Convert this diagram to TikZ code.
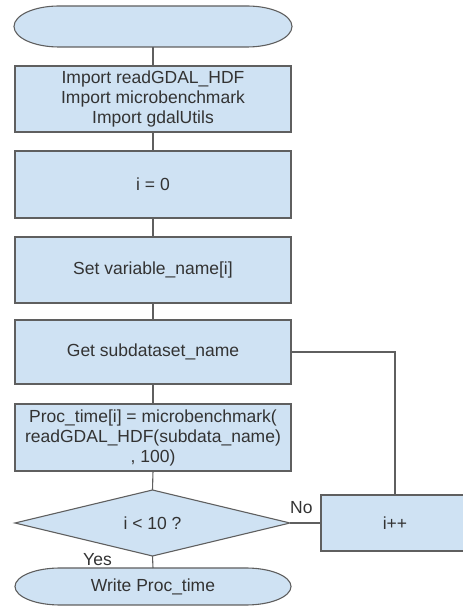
\documentclass[tikz,border=0pt]{standalone}
\usepackage{fontspec}
\setmainfont{Liberation Sans}
\usetikzlibrary{shapes.geometric,calc}
\definecolor{boxfill}{HTML}{CFE2F3}
\definecolor{boxline}{HTML}{5F5F5F}
\definecolor{txt}{HTML}{333333}
\tikzset{
  base/.style={inner sep=0pt, outer sep=0pt, text=txt, align=center,
    font=\fontsize{17.5}{20}\selectfont},
  proc/.style={base, rectangle, draw=boxline, fill=boxfill, line width=1.1pt},
  term/.style={base, rectangle, draw=none},
  decide/.style={base, diamond, draw=boxline, fill=boxfill, line width=1.1pt, aspect=4.17},
  link/.style={draw=boxline, line width=1.1pt},
  lbl/.style={text=txt, font=\fontsize{17.5}{20}\selectfont, inner sep=0pt}
}
\newcommand\termshape[2]{% node, end radius
  \filldraw[link, fill=boxfill]
    ($(#1.north west)+(#2,0)$) -- ($(#1.north east)+(-#2,0)$)
    arc[start angle=90, end angle=-90, x radius=#2 pt, y radius=0.5*\pgfkeysvalueof{/pgf/minimum height}]
    -- ($(#1.south west)+(#2,0)$)
    arc[start angle=270, end angle=90, x radius=#2 pt, y radius=0.5*\pgfkeysvalueof{/pgf/minimum height}]
    -- cycle;}
\begin{document}
\begin{tikzpicture}[x=1pt,y=1pt]
\useasboundingbox (0,0) rectangle (463,611);
\clip (0,0) rectangle (463,611);
% terminators (drawn as rounded shapes)
\node[term, minimum width=278pt, minimum height=41pt] (start) at (153,584.5) {};
\filldraw[link, fill=boxfill]
  ($(start.north west)+(45,0)$) -- ($(start.north east)+(-45,0)$)
  arc[start angle=90, end angle=-90, x radius=45pt, y radius=20.5pt]
  -- ($(start.south west)+(45,0)$)
  arc[start angle=270, end angle=90, x radius=45pt, y radius=20.5pt] -- cycle;
\node[proc, minimum width=276pt, minimum height=66pt] (imp) at (153,512)
  {Import readGDAL\_HDF\\Import microbenchmark\\Import gdalUtils};
\node[proc, minimum width=276pt, minimum height=67pt] (izero) at (153,426.5) {i = 0};
\node[proc, minimum width=276pt, minimum height=66pt] (setvar) at (153,341) {Set variable\_name[i]};
\node[proc, minimum width=276pt, minimum height=64pt] (getsub) at (153,259) {Get subdataset\_name};
\node[proc, minimum width=276pt, minimum height=67pt] (ptime) at (153,173.5)
  {Proc\_time[i] = microbenchmark(\\readGDAL\_HDF(subdata\_name)\\, 100)};
\node[decide, minimum width=275pt, minimum height=66pt] (cond) at (152.5,88) {i < 10 ?};
\node[proc, minimum width=148pt, minimum height=56pt] (inc) at (395,88) {i++};
\node[term, minimum width=276pt, minimum height=37pt] (write) at (153,24.5) {};
\filldraw[link, fill=boxfill]
  ($(write.north west)+(45,0)$) -- ($(write.north east)+(-45,0)$)
  arc[start angle=90, end angle=-90, x radius=45pt, y radius=18.5pt]
  -- ($(write.south west)+(45,0)$)
  arc[start angle=270, end angle=90, x radius=45pt, y radius=18.5pt] -- cycle;
\node[base] (writetext) at (write.center) {Write Proc\_time};
% connectors
\draw[link] (start.south) -- (imp.north);
\draw[link] (imp.south) -- (izero.north);
\draw[link] (izero.south) -- (setvar.north);
\draw[link] (setvar.south) -- (getsub.north);
\draw[link] (getsub.south) -- (ptime.north);
\draw[link] (ptime.south) -- (cond.north);
\draw[link] (cond.south) -- (write.north);
\draw[link] (cond.east) -- (inc.west);
\draw[link] (getsub.east) -| (inc.north);
% labels
\node[lbl, anchor=west] (no) at (290,103) {No};
\node[lbl, anchor=west] (yes) at (83,51) {Yes};
\end{tikzpicture}
\end{document}
